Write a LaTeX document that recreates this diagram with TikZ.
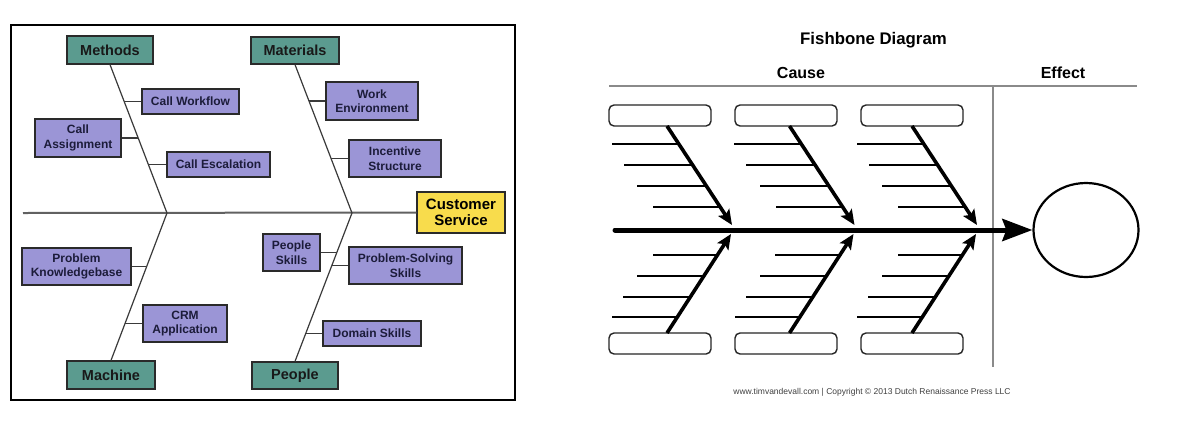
\documentclass[tikz,border=0pt]{standalone}
\usepackage{fontspec}
\setmainfont{Liberation Sans}
\usetikzlibrary{arrows.meta,calc,shapes.geometric}
\definecolor{tealbox}{HTML}{5B9B8F}
\definecolor{lavbox}{HTML}{9B95D6}
\definecolor{yelbox}{HTML}{F8DC4C}
\definecolor{boxline}{HTML}{2A2A2A}
\definecolor{leaftext}{HTML}{1C1C3A}
\definecolor{boneline}{HTML}{3A3A3A}
\definecolor{grayline}{HTML}{8A8A8A}
\tikzset{
  cat/.style={draw=boxline, fill=tealbox, line width=1.2pt, inner sep=0pt, align=center,
    font=\bfseries\fontsize{14.5}{16}\selectfont, text=black!90},
  leaf/.style={draw=boxline, fill=lavbox, line width=1.2pt, inner sep=0pt, align=center,
    font=\bfseries\fontsize{12}{14.5}\selectfont, text=leaftext},
  effectbox/.style={draw=boxline, fill=yelbox, line width=1.2pt, inner sep=0pt, align=center,
    font=\bfseries\fontsize{15}{15.5}\selectfont, text=black},
  bone/.style={draw=boneline, line width=1.2pt},
  mainline/.style={draw=boneline!80, line width=2pt},
  frame/.style={draw=black, line width=1.3pt},
  blank/.style={draw=black!85, rounded corners=5pt, line width=1.4pt, minimum width=102pt, minimum height=21pt, inner sep=0pt},
  diag/.style={draw=black, line width=3.6pt, -{Stealth[length=15pt,width=13pt,inset=3pt]}},
  rib/.style={draw=black, line width=1.9pt},
  spine/.style={draw=black, line width=5pt, line cap=round, -{Stealth[length=30pt,width=22pt,inset=4pt]}},
  gline/.style={draw=grayline, line width=2pt},
  head/.style={font=\bfseries\fontsize{16}{17}\selectfont, inner sep=0pt}
}
\begin{document}
\begin{tikzpicture}[x=1pt,y=-1pt]
\useasboundingbox (0,0) rectangle (1186,424);
\fill[white] (0,0) rectangle (1186,424);

% ===== left diagram =====
\draw[frame] (11,25) rectangle (515,400);

\node[cat, minimum width=86pt, minimum height=28pt] (methods) at (110,50) {Methods};
\node[cat, minimum width=88pt, minimum height=27pt] (materials) at (295,50.5) {Materials};
\node[cat, minimum width=88pt, minimum height=28pt] (machine) at (111,375) {Machine};
\node[cat, minimum width=86pt, minimum height=27pt] (people) at (295,375.5) {People};
\node[effectbox, minimum width=88pt, minimum height=41pt] (cs) at (461,212.5) {Customer\\Service};

\node[leaf, minimum width=97pt, minimum height=25pt] (cw) at (190.5,101.5) {Call Workflow};
\node[leaf, minimum width=86pt, minimum height=38pt] (ca) at (78,138) {Call\\Assignment};
\node[leaf, minimum width=103pt, minimum height=25pt] (ce) at (218.5,164.5) {Call Escalation};
\node[leaf, minimum width=92pt, minimum height=38pt] (we) at (372,101) {Work\\Environment};
\node[leaf, minimum width=92pt, minimum height=37pt] (is) at (395,158.5) {Incentive\\Structure};
\node[leaf, minimum width=109pt, minimum height=37pt] (pk) at (76.5,266.5) {Problem\\Knowledgebase};
\node[leaf, minimum width=84pt, minimum height=37pt] (crm) at (185,323.5) {CRM\\Application};
\node[leaf, minimum width=57pt, minimum height=37pt] (ps) at (291.5,252.5) {People\\Skills};
\node[leaf, minimum width=113pt, minimum height=37pt] (pss) at (405.5,265.5) {Problem-Solving\\Skills};
\node[leaf, minimum width=98pt, minimum height=25pt] (ds) at (372,333.5) {Domain Skills};

\coordinate (lstart) at (23,213);
\coordinate (j1) at (167,213);
\coordinate (j2) at (352,213);
\draw[mainline] (lstart) -- (cs.west);

\draw[bone] (methods.south) -- (j1);
\draw[bone] (materials.south) -- (j2);
\draw[bone] (j1) -- (machine.north);
\draw[bone] (j2) -- (people.north);

\coordinate (m1) at ($(methods.south)!0.252!(j1)$);
\coordinate (m2) at ($(methods.south)!0.497!(j1)$);
\coordinate (m3) at ($(methods.south)!0.674!(j1)$);
\coordinate (t1) at ($(materials.south)!0.248!(j2)$);
\coordinate (t2) at ($(materials.south)!0.634!(j2)$);
\coordinate (k1) at ($(j1)!0.361!(machine.north)$);
\coordinate (k2) at ($(j1)!0.747!(machine.north)$);
\coordinate (p1) at ($(j2)!0.265!(people.north)$);
\coordinate (p2) at ($(j2)!0.352!(people.north)$);
\coordinate (p3) at ($(j2)!0.809!(people.north)$);

\draw[bone] (cw.west) -- (cw.west -| m1);
\draw[bone] (ca.east) -- (ca.east -| m2);
\draw[bone] (ce.west) -- (ce.west -| m3);
\draw[bone] (we.west) -- (we.west -| t1);
\draw[bone] (is.west) -- (is.west -| t2);
\draw[bone] (pk.east) -- (pk.east -| k1);
\draw[bone] (crm.west) -- (crm.west -| k2);
\draw[bone] (ps.east) -- (ps.east -| p1);
\draw[bone] (pss.west) -- (pss.west -| p2);
\draw[bone] (ds.west) -- (ds.west -| p3);

% ===== right diagram =====
\node[head, font=\bfseries\fontsize{16.8}{18}\selectfont] (title) at (873.5,40) {Fishbone Diagram};
\node[head] (cause) at (801,73) {Cause};
\node[head] (effectlbl) at (1063,73) {Effect};

\coordinate (gl0) at (609,86);
\coordinate (gl1) at (1137,86);
\coordinate (vl0) at (993,86);
\coordinate (vl1) at (993,367);
\draw[gline] (gl0) -- (gl1);
\draw[gline] (vl0) -- (vl1);

\node[draw=black, line width=2.2pt, ellipse, minimum width=105pt, minimum height=94pt, inner sep=0pt] (effect) at (1086,230) {};

\coordinate (sp0) at (615,230);
\draw[spine] (sp0) -- (effect.west);

\foreach \i/\bc/\ax in {1/660/667, 2/786/789.5, 3/912/912}{
  \node[blank] (tb\i) at (\bc,115.5) {};
  \node[blank] (bb\i) at (\bc,343.5) {};
  \coordinate (ts\i) at (\ax,126);
  \coordinate (te\i) at (\ax+65,225);
  \coordinate (bs\i) at (\ax,333);
  \coordinate (be\i) at (\ax+64,234);
  \draw[rib] ($(ts\i)!0.182!(te\i)$) -- ++(-67,0);
  \draw[rib] ($(ts\i)!0.394!(te\i)$) -- ++(-69,0);
  \draw[rib] ($(ts\i)!0.606!(te\i)$) -- ++(-69,0);
  \draw[rib] ($(ts\i)!0.818!(te\i)$) -- ++(-67,0);
  \draw[rib] ($(bs\i)!0.16!(be\i)$) -- ++(-65,0);
  \draw[rib] ($(bs\i)!0.36!(be\i)$) -- ++(-67,0);
  \draw[rib] ($(bs\i)!0.58!(be\i)$) -- ++(-67,0);
  \draw[rib] ($(bs\i)!0.79!(be\i)$) -- ++(-65,0);
  \draw[diag] (ts\i) -- (te\i);
  \draw[diag] (bs\i) -- (be\i);
}

\node[font=\fontsize{8.5}{9}\selectfont, text=black!75, inner sep=0pt] (copy) at (872,392)
  {www.timvandevall.com | Copyright © 2013 Dutch Renaissance Press LLC};
\end{tikzpicture}
\end{document}
